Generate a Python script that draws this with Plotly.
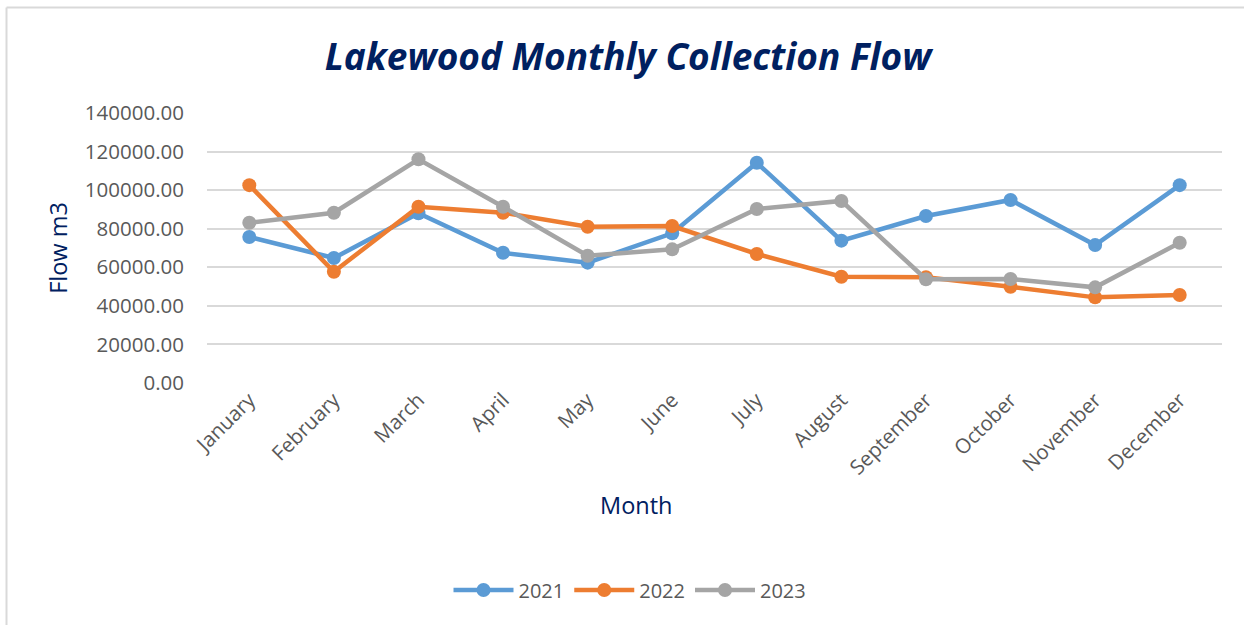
import plotly.graph_objects as go

months = ["January", "February", "March", "April", "May", "June", "July",
          "August", "September", "October", "November", "December"]
flow_2021 = [75700, 64800, 88000, 67500, 62400, 77600, 114200, 73800, 86600, 94900, 71500, 102600]
flow_2022 = [102600, 57700, 91400, 88300, 81000, 81400, 66900, 55100, 54800, 49900, 44400, 45600]
flow_2023 = [83100, 88300, 116000, 91400, 66000, 69300, 90200, 94400, 53800, 53900, 49600, 72700]
y_ticks = [0, 20000, 40000, 60000, 80000, 100000, 120000, 140000]

W, H = 1244, 625
L, R, T, B = 207, 22, 113, 242
pw, ph = W - L - R, H - T - B

def px(x):
    return (x - L) / pw

def py(y):
    return (H - B - y) / ph

series = [("2021", flow_2021, "#5B9BD5"), ("2022", flow_2022, "#ED7D31"), ("2023", flow_2023, "#A5A5A5")]

fig = go.Figure()
for name, vals, col in series:
    fig.add_trace(go.Scatter(
        x=months, y=vals, name=name, mode="lines+markers",
        line=dict(color=col, width=4.5),
        marker=dict(color=col, size=14),
    ))

title_col = "#002060"
tick_col = "#595959"

fig.update_layout(
    width=W, height=H,
    margin=dict(l=L, r=R, t=T, b=B, autoexpand=False),
    paper_bgcolor="white", plot_bgcolor="white",
    font=dict(family="Open Sans", color=tick_col),
    title=dict(text="<b><i>Lakewood Monthly Collection Flow</i></b>",
               x=px(628), xanchor="center", y=1 - 57 / H, yanchor="middle",
               xref="paper",
               font=dict(family="Open Sans", size=37, color=title_col)),
    xaxis=dict(
        type="category", range=[-0.5, 11.5],
        showgrid=False, zeroline=False, showline=False,
        tickangle=-45, tickfont=dict(size=20.5, color=tick_col),
        ticks="", ticklen=0,
    ),
    yaxis=dict(
        range=[0, 140000], tickvals=y_ticks,
        ticktext=[f"{v:.2f}" for v in y_ticks],
        showgrid=True, gridcolor="#D9D9D9", gridwidth=1.5,
        zeroline=False, showline=False,
        tickfont=dict(size=20.5, color=tick_col), ticks="", ticklabelstandoff=22,
        title=dict(text="Flow m3", font=dict(size=23.5, color=title_col), standoff=10),
    ),
    legend=dict(orientation="h", x=px(630), xanchor="center", y=py(590), yanchor="middle",
                font=dict(size=20, color=tick_col), itemwidth=60, traceorder="normal"),
    showlegend=True,
    annotations=[dict(text="Month", xref="paper", yref="paper",
                      x=px(636), y=py(505), xanchor="center", yanchor="middle",
                      showarrow=False, font=dict(size=23.5, color=title_col))],
)

# chart border (left and top edges visible)
fig.add_shape(type="line", xref="paper", yref="paper",
              x0=px(6.5), x1=px(1244), y0=py(7.5), y1=py(7.5),
              line=dict(color="#D9D9D9", width=2))
fig.add_shape(type="line", xref="paper", yref="paper",
              x0=px(6.5), x1=px(6.5), y0=py(7.5), y1=py(625),
              line=dict(color="#D9D9D9", width=2))

fig.write_html("out.html", config={"displayModeBar": False},
               post_script="document.body.style.margin='0';")
